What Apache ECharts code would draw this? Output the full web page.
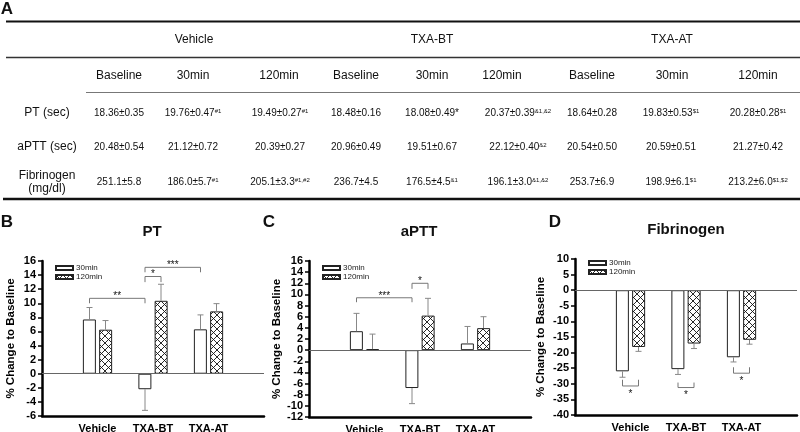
<!doctype html>
<html lang="en">
<head>
<meta charset="utf-8">
<title>Coagulation after TXA</title>
<script src="https://cdn.jsdelivr.net/npm/echarts@6/dist/echarts.min.js"></script>
<style>
html, body { margin: 0; padding: 0; background: #fff; }
#chart { width: 800px; height: 432px; }
</style>
</head>
<body>
<div id="chart"></div>
<script>
// ---- panel A : table ----
var groups = ['Vehicle', 'TXA-BT', 'TXA-AT'];
var times = ['Baseline', '30min', '120min'];
var rowLabels = ['PT (sec)', 'aPTT (sec)', 'Fibrinogen\n(mg/dl)'];
var ptCells = ['18.36±0.35', '19.76±0.47{s|#1}', '19.49±0.27{s|#1}', '18.48±0.16', '18.08±0.49*',
               '20.37±0.39{s|&1,&2}', '18.64±0.28', '19.83±0.53{s|$1}', '20.28±0.28{s|$1}'];
var apttCells = ['20.48±0.54', '21.12±0.72', '20.39±0.27', '20.96±0.49', '19.51±0.67',
                 '22.12±0.40{s|&2}', '20.54±0.50', '20.59±0.51', '21.27±0.42'];
var fibCells = ['251.1±5.8', '186.0±5.7{s|#1}', '205.1±3.3{s|#1,#2}', '236.7±4.5', '176.5±4.5{s|&1}',
                '196.1±3.0{s|&1,&2}', '253.7±6.9', '198.9±6.1{s|$1}', '213.2±6.0{s|$1,$2}'];

// ---- panels B-D : % change to baseline (mean, sd) ----
var cats = ['Vehicle', 'TXA-BT', 'TXA-AT'];
var pt30 = [7.7, -2.2, 6.3];
var pt30sd = [1.7, 3.0, 2.05];
var pt120 = [6.25, 10.35, 8.85];
var pt120sd = [1.3, 2.35, 1.1];
var aptt30 = [3.4, -6.8, 1.2];
var aptt30sd = [3.2, 2.8, 3.05];
var aptt120 = [0.18, 6.2, 3.95];
var aptt120sd = [2.7, 3.1, 2.05];
var fib30 = [-26.0, -25.3, -21.5];
var fib30sd = [1.9, 1.7, 1.5];
var fib120 = [-18.2, -17.1, -15.9];
var fib120sd = [1.4, 1.6, 1.4];

// significance brackets: [group, bar(0=30,1=120)] -> [group, bar], line level, tip level
var ptSig = [
  {a: [0, 0], b: [1, 0], y: 10.7, tip: 10.0, t: '**'},
  {a: [1, 0], b: [1, 1], y: 13.8, tip: 13.0, t: '*'},
  {a: [1, 0], b: [2, 0], y: 15.1, tip: 14.4, t: '***'}
];
var apttSig = [
  {a: [0, 0], b: [1, 0], y: 9.4, tip: 8.6, t: '***'},
  {a: [1, 0], b: [1, 1], y: 12.0, tip: 11.0, t: '*'}
];
var fibSig = [
  {a: [0, 0], b: [0, 1], y: -30.7, tip: -28.7, t: '*'},
  {a: [1, 0], b: [1, 1], y: -31.2, tip: -29.6, t: '*'},
  {a: [2, 0], b: [2, 1], y: -26.6, tip: -24.7, t: '*'}
];

var FONT = '"Liberation Sans", Arial, sans-serif';
var OFF = 8; // half distance between the two bars of a group, px

function hatch() {
    var c = document.createElement('canvas');
    c.width = 7; c.height = 7;
    var g = c.getContext('2d');
    g.fillStyle = '#fff';
    g.fillRect(0, 0, 7, 7);
    g.strokeStyle = '#111';
    g.lineWidth = 0.9;
    g.beginPath();
    g.moveTo(-1, -1); g.lineTo(8, 8);
    g.moveTo(-1, 8); g.lineTo(8, -1);
    g.stroke();
    return c;
}
var hatchFill = {image: hatch(), repeat: 'repeat'};

// one empty slot on each side of the three groups
function pad(arr, empty) { return [empty].concat(arr, [empty]); }

function errSeries(i, vals, sds, side) {
    var data = vals.map(function (v, k) { return [k + 1, v, sds[k], side]; });
    return {
        type: 'custom', xAxisIndex: i, yAxisIndex: i, silent: true, z: 5,
        data: data, encode: {x: 0, y: 1},
        renderItem: function (params, api) {
            var m = api.value(1), sd = api.value(2), s = api.value(3);
            var dir = m >= 0 ? 1 : -1;
            var p0 = api.coord([api.value(0), m]);
            var p1 = api.coord([api.value(0), m + dir * sd]);
            var x = p0[0] + s * OFF;
            var st = {stroke: '#888', lineWidth: 1};
            return {type: 'group', children: [
                {type: 'line', shape: {x1: x, y1: p0[1], x2: x, y2: p1[1]}, style: st},
                {type: 'line', shape: {x1: x - 3, y1: p1[1], x2: x + 3, y2: p1[1]}, style: st}
            ]};
        }
    };
}

function sigSeries(i, list) {
    return {
        type: 'custom', xAxisIndex: i, yAxisIndex: i, silent: true, z: 6,
        data: list.map(function (b) { return [b.a[0] + 1, b.y, b.b[0] + 1, b.tip]; }),
        encode: {x: 0, y: 1},
        renderItem: function (params, api) {
            var b = list[params.dataIndex];
            var p1 = api.coord([b.a[0] + 1, b.y]);
            var p2 = api.coord([b.b[0] + 1, b.y]);
            var ty = api.coord([b.a[0] + 1, b.tip])[1];
            var x1 = p1[0] + (b.a[1] ? OFF : -OFF);
            var x2 = p2[0] + (b.b[1] ? OFF : -OFF);
            var above = b.tip < b.y;
            return {type: 'group', children: [
                {type: 'polyline', shape: {points: [[x1, ty], [x1, p1[1]], [x2, p1[1]], [x2, ty]]},
                 style: {stroke: '#777', fill: null, lineWidth: 1}},
                {type: 'text', style: {text: b.t, x: (x1 + x2) / 2, y: above ? p1[1] - 2 : p1[1] + 8,
                 textAlign: 'center', textVerticalAlign: 'middle', fontSize: 10, fontFamily: FONT, fill: '#111'}}
            ]};
        }
    };
}

var panels = [
    {grid: {left: 42, top: 261, width: 222, height: 155}, min: -6, max: 16, step: 2, gap: 25,
     v30: pt30, s30: pt30sd, v120: pt120, s120: pt120sd, sig: ptSig, leg: [55, 264]},
    {grid: {left: 309, top: 261, width: 222, height: 156}, min: -12, max: 16, step: 2, gap: 22,
     v30: aptt30, s30: aptt30sd, v120: aptt120, s120: aptt120sd, sig: apttSig, leg: [322, 264]},
    {grid: {left: 575, top: 259, width: 222, height: 156}, min: -40, max: 10, step: 5, gap: 28,
     v30: fib30, s30: fib30sd, v120: fib120, s120: fib120sd, sig: fibSig, leg: [588, 259]}
];

var option = {
    animation: false,
    backgroundColor: '#fff',
    textStyle: {fontFamily: FONT},
    grid: [], xAxis: [], yAxis: [], legend: [], series: [], graphic: []
};

panels.forEach(function (p, i) {
    var g = p.grid;
    option.grid.push({left: g.left, top: g.top, width: g.width, height: g.height, outerBoundsMode: 'none'});
    option.xAxis.push({
        type: 'category', gridIndex: i, data: pad(cats, ''), boundaryGap: false,
        axisLine: {onZero: false, lineStyle: {color: '#000', width: 2.5}},
        axisTick: {show: false},
        axisLabel: {interval: 0, color: '#000', fontWeight: 'bold', fontSize: 11, fontFamily: FONT, margin: 7},
        splitLine: {show: false}
    });
    option.yAxis.push({
        type: 'value', gridIndex: i, min: p.min, max: p.max, interval: p.step,
        name: '% Change to Baseline', nameLocation: 'middle', nameGap: p.gap,
        nameTextStyle: {color: '#000', fontWeight: 'bold', fontSize: 11.5, fontFamily: FONT},
        axisLine: {show: true, lineStyle: {color: '#000', width: 2.5}},
        axisTick: {show: true, length: 4, lineStyle: {color: '#000', width: 1.5}},
        axisLabel: {color: '#000', fontWeight: 'bold', fontSize: 11, fontFamily: FONT, margin: 6},
        splitLine: {show: false}
    });
    option.legend.push({
        left: p.leg[0], top: p.leg[1], orient: 'vertical', padding: 0, itemGap: 1,
        itemWidth: 17, itemHeight: 4, icon: 'rect', selectedMode: false,
        textStyle: {fontSize: 8, color: '#222', fontFamily: FONT, padding: [0, 0, 0, -2]},
        data: ['30min', '120min']
    });
    option.series.push({
        name: '30min', type: 'bar', xAxisIndex: i, yAxisIndex: i, data: pad(p.v30, '-'),
        barWidth: 13, barGap: '25%', silent: true,
        itemStyle: {color: '#fff', borderColor: '#222', borderWidth: 1},
        markLine: {silent: true, symbol: 'none', label: {show: false},
                   lineStyle: {color: '#666', width: 1, type: 'solid'}, data: [{yAxis: 0}]}
    });
    option.series.push({
        name: '120min', type: 'bar', xAxisIndex: i, yAxisIndex: i, data: pad(p.v120, '-'),
        barWidth: 13, barGap: '25%', silent: true,
        itemStyle: {color: hatchFill, borderColor: '#222', borderWidth: 1}
    });
    option.series.push(errSeries(i, p.v30, p.s30, -1));
    option.series.push(errSeries(i, p.v120, p.s120, 1));
    option.series.push(sigSeries(i, p.sig));
});

// ---- graphic: table and panel headings ----
function txt(x, y, s, size, weight, extra) {
    var st = {text: s, x: x, y: y, textAlign: 'center', textVerticalAlign: 'middle',
              fontSize: size, fontWeight: weight || 'normal', fontFamily: FONT, fill: '#111'};
    if (extra) { for (var k in extra) st[k] = extra[k]; }
    return {type: 'text', silent: true, style: st};
}
function hline(x1, x2, y, w, c) {
    return {type: 'line', silent: true, shape: {x1: x1, y1: y, x2: x2, y2: y}, style: {stroke: c, lineWidth: w}};
}

var gx = option.graphic;
var groupX = [194, 432, 672];
var headX = [119, 193, 279, 356, 432, 502, 592, 672, 758];
var cellX = [119, 193, 280, 356, 432, 518, 592, 671, 758];
var rowY = [113, 147, 182];
var sup = {s: {fontSize: 6, verticalAlign: 'top', fontFamily: FONT, fill: '#111'}};

gx.push(txt(7, 9, 'A', 17, 'bold'));
gx.push(hline(6, 800, 21.5, 2, '#111'));
gx.push(hline(6, 800, 57.5, 1.5, '#333'));
gx.push(hline(86, 800, 92.5, 1, '#777'));
gx.push(hline(3, 800, 199, 2.6, '#111'));
groups.forEach(function (g, k) { gx.push(txt(groupX[k], 40, g, 12)); });
headX.forEach(function (x, k) { gx.push(txt(x, 76, times[k % 3], 12)); });
rowLabels.forEach(function (r, k) { gx.push(txt(47, rowY[k], r, 12, 'normal', {lineHeight: 13})); });
[ptCells, apttCells, fibCells].forEach(function (row, r) {
    row.forEach(function (c, k) { gx.push(txt(cellX[k], rowY[r], c, 10, 'normal', {rich: sup})); });
});

gx.push(txt(7, 222, 'B', 17, 'bold'));
gx.push(txt(269, 222, 'C', 17, 'bold'));
gx.push(txt(555, 222, 'D', 17, 'bold'));
gx.push(txt(152, 232, 'PT', 15, 'bold'));
gx.push(txt(419, 232, 'aPTT', 15, 'bold'));
gx.push(txt(686, 230, 'Fibrinogen', 15, 'bold'));

var myChart = echarts.init(document.getElementById('chart'), null, {renderer: 'canvas'});
myChart.setOption(option);
</script>
</body>
</html>
